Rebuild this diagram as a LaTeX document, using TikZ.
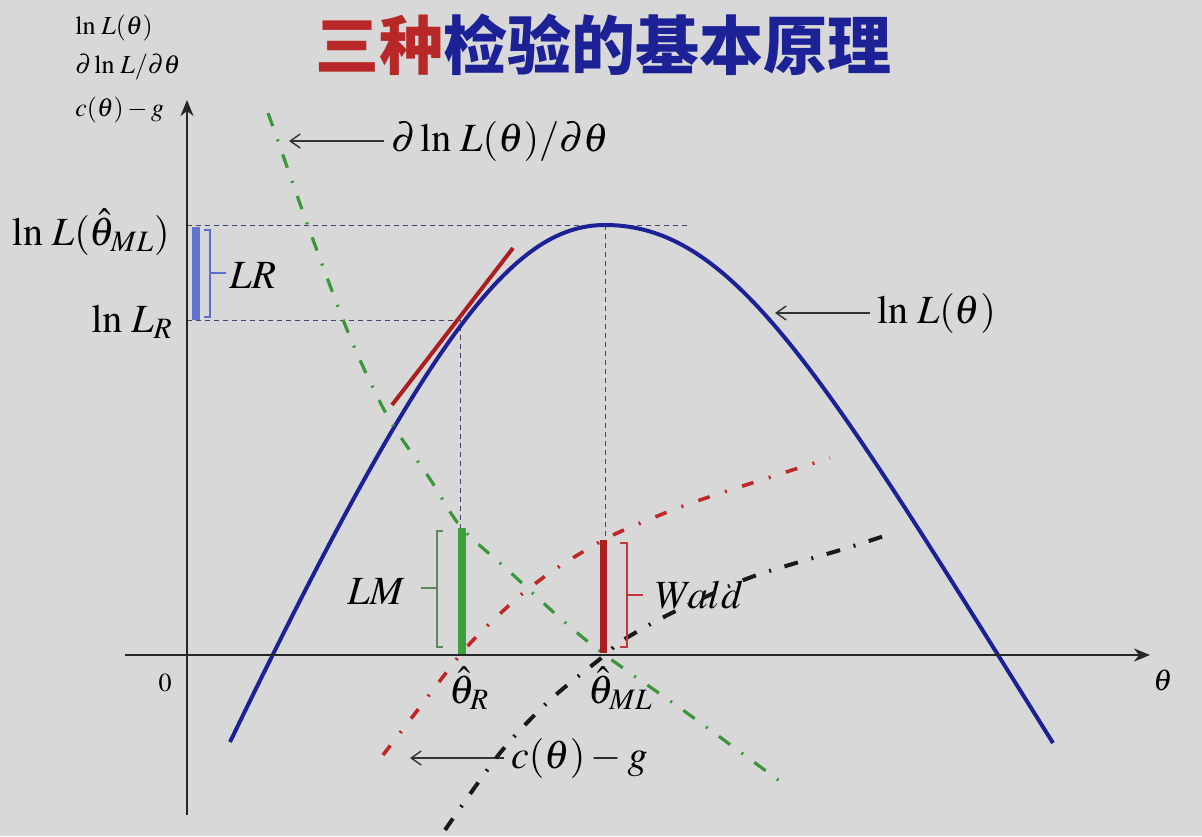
\documentclass[tikz,border=0pt]{standalone}
\usepackage{mathptmx}
\usepackage{fontspec}
\setmainfont{Liberation Serif}
\newfontfamily\cjk{Noto Sans CJK SC}
\usepackage{xcolor}
\usetikzlibrary{arrows.meta}
\definecolor{bgGray}{RGB}{216,216,216}
\definecolor{curveBlue}{RGB}{28,34,150}
\definecolor{titleRed}{RGB}{185,40,40}
\definecolor{dashGreen}{RGB}{60,150,60}
\definecolor{dashRed}{RGB}{190,40,40}
\definecolor{dashBlack}{RGB}{25,25,25}
\definecolor{barBlue}{RGB}{95,115,205}
\definecolor{barGreen}{RGB}{60,160,60}
\definecolor{barRed}{RGB}{170,32,32}
\definecolor{braceBlue}{RGB}{90,110,210}
\definecolor{braceGreen}{RGB}{95,135,95}
\definecolor{braceRed}{RGB}{195,55,55}
\definecolor{guideGray}{RGB}{70,70,110}

\begin{document}
\begin{tikzpicture}[x=0.5pt,y=-0.5pt]
  \tikzset{
    lbl/.style={font=\fontsize{20}{24}\selectfont},
    lblsmall/.style={font=\fontsize{13}{15}\selectfont,anchor=west,inner sep=0pt},
    arr/.style={-{Straight Barb[length=5pt,width=7pt]},line width=0.7pt,black!80},
    axisline/.style={-{Stealth[length=8pt,width=6.5pt,inset=2.5pt]},line width=1.1pt,black!85},
    guide/.style={line width=0.5pt,dash pattern=on 2.5pt off 2pt,guideGray},
    dashdot/.style={line width=1.8pt,dash pattern=on 7pt off 7pt on 1pt off 7pt},
    barline/.style={line width=4pt}, bracket/.style={line width=0.8pt}}
  \fill[bgGray] (0,0) rectangle (1202,836);
  \useasboundingbox (0,0) rectangle (1202,836);
  % title and axis legend
  \node (title) at (603,45) {\cjk\bfseries\fontsize{32}{32}\selectfont
    \textcolor{titleRed}{三种}\textcolor{curveBlue}{检验的基本原理}};
  \node[lblsmall] (ylA) at (75,28) {$\ln\,L(\theta)$};
  \node[lblsmall] (ylB) at (75,67) {$\partial\ln\,L/\partial\theta$};
  \node[lblsmall] (ylC) at (75,110) {$c(\theta)-g$};
  % labels
  \node[lbl,anchor=east,inner sep=0pt] (lnLml) at (170,232) {$\ln\,L(\hat\theta_{ML})$};
  \node[lbl,anchor=base east,inner sep=0pt] (lnLR) at (173,332) {$\ln\,L_R$};
  \node[lbl,anchor=base west,inner sep=0pt] (lbLR) at (229,288) {$LR$};
  \node[lbl,anchor=base east,inner sep=0pt] (lbLM) at (405,604) {$LM$};
  \node[lbl,anchor=base west,inner sep=0pt] (lbWald) at (655,608) {$Wald$};
  \node[lbl,anchor=base west,inner sep=0pt] (thR) at (449,703) {$\hat\theta_R$};
  \node[lbl,anchor=base west,inner sep=0pt] (thML) at (588,703) {$\hat\theta_{ML}$};
  \node[inner sep=0pt,font=\fontsize{13}{15}\selectfont] (zero) at (165,683) {$0$};
  \node[inner sep=0pt,font=\fontsize{15}{17}\selectfont] (thAx) at (1163,680) {$\theta$};
  \node[lbl,anchor=west] (lbDer) at (384,141) {$\partial\ln\,L(\theta)/\partial\theta$};
  \node[lbl,anchor=west] (lbLnL) at (870,313) {$\ln\,L(\theta)$};
  \node[lbl,anchor=west] (lbCg) at (504,758) {$c(\theta)-g$};
  \coordinate (tipDer) at (289,141);
  \coordinate (tipLnL) at (775,313);
  \coordinate (tipCg) at (410,758);
  \draw[arr] (lbDer.west) -- (tipDer);
  \draw[arr] (lbLnL.west) -- (tipLnL);
  \draw[arr] (lbCg.west) -- (tipCg);
  % guide lines
  \coordinate (peak) at (605,225);
  \coordinate (pR) at (460,320);
  \draw[guide] (187,225) -- (690,225);
  \draw[guide] (187,320) -- (pR) -- (460,528);
  \draw[guide] (peak) -- (605,540);
  % curves
  \draw[curveBlue,line width=2pt] (230,742) .. controls (430,328) and (515,225) .. (peak)
    .. controls (735,225) and (823,375) .. (1053,743);
  \draw[dashdot,dashGreen,line width=1.6pt] plot[smooth] coordinates {(268,113) (278,141)
    (308,226) (350,337) (388,417) (430,479) (461,527) (510,572) (560,618) (605,655)
    (687,713) (785,785)};
  \draw[dashdot,dashRed,dash pattern=on 6pt off 8pt on 1pt off 8pt] plot[smooth] coordinates
    {(383,755) (420,707) (460,655) (485,628) (522,594) (557,568) (607,538) (655,517)
    (700,500) (783,473) (830,458)};
  \draw[dashdot,dashBlack,line width=2pt] plot[smooth] coordinates {(445,830) (500,753)
    (550,700) (605,655) (620,642) (658,620) (703,598) (757,575) (847,548) (893,533)};
  \draw[barRed,line width=2pt] (392,405) -- (513,248);
  % bars and brackets
  \draw[barline,barBlue] (196,227) -- (196,320);
  \draw[barline,barGreen] (462,528) -- (462,655);
  \draw[barline,barRed,line width=3.5pt] (603,540) -- (603,653);
  \draw[bracket,braceBlue] (204,230) -- (210,230) -- (210,317) -- (204,317) (210,273) -- (226,273);
  \draw[bracket,braceGreen] (443,531) -- (437,531) -- (437,647) -- (443,647) (437,588) -- (421,588);
  \draw[bracket,braceRed] (620,543) -- (627,543) -- (627,647) -- (620,647) (627,595) -- (643,595);
  % axes
  \draw[axisline] (187,815) -- (187,100);
  \draw[axisline] (125,655) -- (1150,655);
\end{tikzpicture}
\end{document}
